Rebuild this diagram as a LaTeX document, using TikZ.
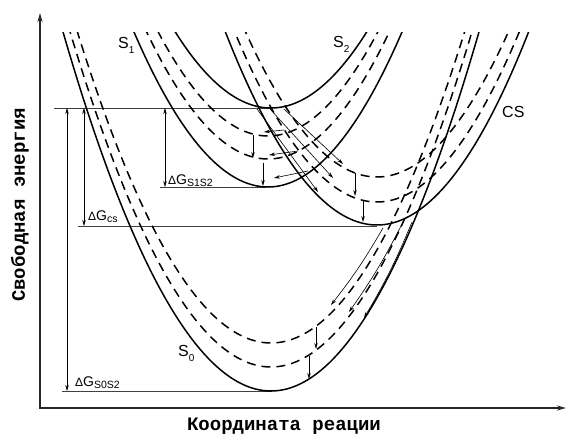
\documentclass[tikz,border=0pt]{standalone}
\usepackage{fontspec}
\setmainfont{Liberation Sans}
\newfontfamily\monof{Liberation Mono}
\usetikzlibrary{arrows.meta}
\begin{document}
\begin{tikzpicture}[x=1pt,y=-1pt,
  pot/.style={line width=1.5pt},
  vib/.style={line width=1.5pt, dash pattern=on 9pt off 6pt},
  lvl/.style={line width=0.6pt, black!75},
  dg/.style={line width=0.6pt, {Stealth[length=6pt,width=3.5pt]}-{Stealth[length=6pt,width=3.5pt]}},
  tr/.style={line width=0.6pt, -{Stealth[length=6pt,width=3.5pt]}},
  rx/.style={line width=0.8pt, -{Stealth[length=6pt,width=3.5pt]}},
  lab/.style={font=\fontsize{16}{16}\selectfont, inner sep=0pt, anchor=west},
  dgl/.style={font=\fontsize{14}{14}\selectfont, inner sep=0pt, anchor=base west},
  axl/.style={font=\monof\bfseries\fontsize{19}{19}\selectfont, inner sep=0pt}]
\useasboundingbox (0,0) rectangle (566,437);

% axes
\coordinate (O) at (40,408);
\coordinate (ytop) at (40,13);
\coordinate (xend) at (566,408);
\draw[line width=1.6pt, black!85, -{Stealth[length=9pt,width=5pt]}] ([yshift=-0.8pt]O) -- (ytop);
\draw[line width=1.6pt, black!85, -{Stealth[length=9pt,width=5pt]}] ([xshift=-0.8pt]O) -- (xend);
\node[axl, rotate=90] (ylab) at (20,205) {Свободная энергия};
\node[axl] (xlab) at (284,426) {Координата реации};

% level lines
\draw[lvl] (54,108) -- (272,108);
\draw[lvl] (160,187) -- (266,187);
\draw[lvl] (78,226) -- (377,226);
\draw[lvl] (62,391) -- (272,391);

% curves
\begin{scope}
\clip (40,32) rectangle (566,408);
% S0
\draw[pot] plot[domain=40:540, samples=120] (\x,{391-0.83*((\x-271)/10)^2});
\draw[vib] plot[domain=40:540, samples=120] (\x,{367-0.83*((\x-271)/10)^2});
\draw[vib] plot[domain=40:540, samples=120] (\x,{343-0.83*((\x-271)/10)^2});
% S1
\draw[pot] plot[domain=100:440, samples=100] (\x,{187-0.863*((\x-268)/10)^2});
\draw[vib] plot[domain=100:440, samples=100] (\x,{159-0.863*((\x-268)/10)^2});
\draw[vib] plot[domain=100:440, samples=100] (\x,{136-0.863*((\x-268)/10)^2});
% S2
\draw[pot] plot[domain=150:400, samples=80] (\x,{108-0.83*((\x-271)/10)^2});
% CS
\draw[pot] plot[domain=200:566, samples=120] (\x,{225-0.84*((\x-377)/10)^2});
\draw[vib] plot[domain=200:566, samples=120] (\x,{202-0.84*((\x-377)/10)^2});
\draw[vib] plot[domain=200:566, samples=120] (\x,{177-0.84*((\x-377)/10)^2});
\end{scope}

% delta G arrows
\draw[dg] (67,108) -- (67,391);
\draw[dg] (84,108) -- (84,226);
\draw[dg] (165,108) -- (165,187);

% labels
\node[lab] (lS1) at (118,45) {S\raisebox{-5pt}{\fontsize{10}{10}\selectfont 1}};
\node[lab] (lS2) at (333,44) {S\raisebox{-5pt}{\fontsize{10}{10}\selectfont 2}};
\node[lab] (lCS) at (502,112) {CS};
\node[lab] (lS0) at (178,353) {S\raisebox{-5pt}{\fontsize{10}{10}\selectfont 0}};
\node[dgl] (dG12) at (168,184) {{\fontsize{12}{12}\selectfont Δ}G\raisebox{-2.5pt}{\fontsize{10.5}{10.5}\selectfont S1S2}};
\node[dgl] (dGcs) at (88,220) {{\fontsize{12}{12}\selectfont Δ}G\raisebox{-2.5pt}{\fontsize{10.5}{10.5}\selectfont cs}};
\node[dgl] (dG02) at (75,386) {{\fontsize{12}{12}\selectfont Δ}G\raisebox{-2.5pt}{\fontsize{10.5}{10.5}\selectfont S0S2}};

% relaxation arrows (vertical)
\draw[rx] (253,135) -- (253,158);
\draw[rx] (263,163) -- (263,186);
\draw[rx] (355,173) -- (355,196);
\draw[rx] (363,201) -- (363,222);
\draw[rx] (316,327) -- (316,349);
\draw[rx] (309,356) -- (309,379);

% back transfer arrows (to S1)
\draw[tr] (284,130) -- (264,132);
\draw[tr] (298,151) -- (269,155);
\draw[tr] (308,171) -- (274,178);

% S2 -> CS transfer
\draw[tr] (257,109) -- (318,192);
\draw[tr] (270,109) -- (333,178);
\draw[tr] (284,109) -- (343,164);

% CS -> S0 transfer
\draw[tr] (383,228) to[bend left=4] (331,305);
\draw[tr] (401,226) to[bend left=4] (349,312);
\draw[tr] (412,222) to[bend left=4] (364,318);
\end{tikzpicture}
\end{document}
